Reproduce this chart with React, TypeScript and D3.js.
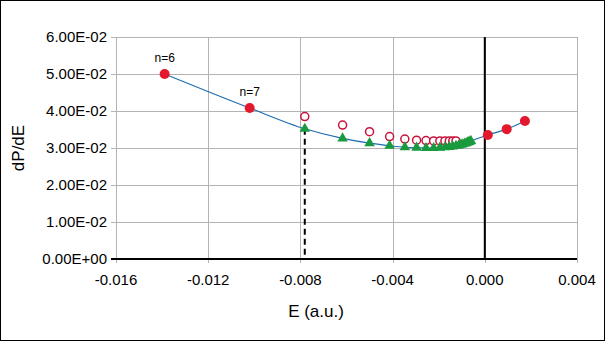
import React, { useRef, useEffect } from "react";
import * as d3 from "d3";

// bound states n=6, n=7 and the positive-energy points (filled red)
const redE = [-0.01389, -0.0102, 0.00013, 0.00095, 0.00174];
const redP = [0.05, 0.0408, 0.0335, 0.0351, 0.0373];

// hollow circles n=8..20
const openE = [
  -0.00781, -0.00617, -0.005, -0.00413, -0.00347, -0.00296, -0.00255, -0.00222,
  -0.00195, -0.00173, -0.00154, -0.00139, -0.00125,
];
const openP = [
  0.0385, 0.0362, 0.0344, 0.0331, 0.0324, 0.0321, 0.032, 0.0319, 0.0319,
  0.0319, 0.0319, 0.0319, 0.0319,
];

// green triangles
const greenE = [
  -0.00781, -0.00617, -0.005, -0.00413, -0.00347, -0.00296, -0.00255, -0.00222,
  -0.00195, -0.00173, -0.00154, -0.00139, -0.00125, -0.00113, -0.00103,
  -0.00095, -0.00087, -0.0008, -0.00074, -0.00069, -0.00064, -0.0006,
];
const greenP = [
  0.0352, 0.0326, 0.0313, 0.0306, 0.0302, 0.0301, 0.03, 0.03, 0.0301, 0.0302,
  0.0303, 0.0304, 0.0306, 0.0307, 0.0309, 0.031, 0.0312, 0.0313, 0.0315,
  0.0316, 0.0318, 0.0319,
];

// smooth guide line
const lineE = [-0.01389, -0.0102, -0.00781, -0.00617, -0.005, -0.00413, -0.00347, -0.00296, -0.00222, -0.00154, -0.001, -0.0006, 0.00013, 0.00095, 0.00174];
const lineP = [0.05, 0.0408, 0.0352, 0.0326, 0.0313, 0.0306, 0.0302, 0.0301, 0.03, 0.0303, 0.0309, 0.0319, 0.0335, 0.0351, 0.0373];

const xTicks = [-0.016, -0.012, -0.008, -0.004, 0.0, 0.004];
const yTicks = [0, 0.01, 0.02, 0.03, 0.04, 0.05, 0.06];
const labels = [
  { text: "n=6", e: -0.01389, p: 0.05 },
  { text: "n=7", e: -0.0102, p: 0.0408 },
];
const dashedE = -0.00781;
const dashedTop = 0.0352;

const width = 605;
const height = 341;
const margin = { top: 37, right: 28, bottom: 82, left: 116 };

function App() {
  const svgRef = useRef<SVGSVGElement>(null);

  useEffect(() => {
    const svg = d3.select(svgRef.current);
    svg.selectAll("*").remove();

    const x = d3.scaleLinear().domain([-0.016, 0.004]).range([margin.left, width - margin.right]);
    const y = d3.scaleLinear().domain([0, 0.06]).range([height - margin.bottom, margin.top]);
    const font = "'Liberation Sans', Arial, sans-serif";

    // outer frame
    svg.append("rect").attr("x", 0.5).attr("y", 0.5).attr("width", width - 1).attr("height", height - 1)
      .attr("fill", "#fff").attr("stroke", "#000");

    // grid
    svg.append("g").selectAll("line").data(yTicks.slice(1)).enter().append("line")
      .attr("x1", margin.left - 5).attr("x2", width - margin.right)
      .attr("y1", (d) => Math.round(y(d)) + 0.5).attr("y2", (d) => Math.round(y(d)) + 0.5)
      .attr("stroke", "#b3b3b3");
    svg.append("g").selectAll("line").data(xTicks).enter().append("line")
      .attr("x1", (d) => Math.round(x(d)) + 0.5).attr("x2", (d) => Math.round(x(d)) + 0.5)
      .attr("y1", margin.top).attr("y2", height - margin.bottom + 4)
      .attr("stroke", "#b3b3b3");

    // y tick labels
    svg.append("g").selectAll("text").data(yTicks).enter().append("text")
      .attr("x", margin.left - 9).attr("y", (d) => y(d))
      .attr("dy", "0.35em").attr("text-anchor", "end")
      .attr("font-family", font).attr("font-size", 15).attr("fill", "#000")
      .text((d) => d3.format(".2e")(d).replace("e", "E").replace(/E([+-])(\d)$/, "E$10$2"));

    // x tick labels
    svg.append("g").selectAll("text").data(xTicks).enter().append("text")
      .attr("x", (d) => x(d)).attr("y", height - margin.bottom + 26)
      .attr("text-anchor", "middle")
      .attr("font-family", font).attr("font-size", 15).attr("fill", "#000")
      .text((d) => d3.format(".3f")(d).replace("−", "-"));

    // x axis line
    svg.append("line").attr("x1", margin.left - 5).attr("x2", width - margin.right)
      .attr("y1", y(0)).attr("y2", y(0)).attr("stroke", "#000").attr("stroke-width", 2);

    // solid line at E = 0
    svg.append("line").attr("x1", x(0)).attr("x2", x(0))
      .attr("y1", margin.top).attr("y2", y(0)).attr("stroke", "#000").attr("stroke-width", 2);

    // dashed line
    svg.append("line").attr("x1", x(dashedE)).attr("x2", x(dashedE))
      .attr("y1", y(dashedTop)).attr("y2", y(0))
      .attr("stroke", "#000").attr("stroke-width", 2).attr("stroke-dasharray", "6,4");

    // guide curve
    const pts = lineE.map((e, i) => [e, lineP[i]] as [number, number]);
    svg.append("path").datum(pts)
      .attr("fill", "none").attr("stroke", "#1f6db3").attr("stroke-width", 1.2)
      .attr("d", d3.line<[number, number]>().x((d) => x(d[0])).y((d) => y(d[1])).curve(d3.curveMonotoneX));

    // hollow circles
    svg.append("g").selectAll("circle").data(openE).enter().append("circle")
      .attr("cx", (d) => x(d)).attr("cy", (d, i) => y(openP[i])).attr("r", 4)
      .attr("fill", "#fff").attr("stroke", "#c8143c").attr("stroke-width", 1.5);

    // green triangles
    const tri = d3.symbol().type(d3.symbolTriangle).size(48);
    svg.append("g").selectAll("path").data(greenE).enter().append("path")
      .attr("transform", (d, i) => `translate(${x(d)},${y(greenP[i])})`)
      .attr("d", tri()).attr("fill", "#1a9a3e");

    // red filled circles
    svg.append("g").selectAll("circle").data(redE).enter().append("circle")
      .attr("cx", (d) => x(d)).attr("cy", (d, i) => y(redP[i])).attr("r", 5)
      .attr("fill", "#e3182d");

    // point labels
    svg.append("g").selectAll("text").data(labels).enter().append("text")
      .attr("x", (d) => x(d.e)).attr("y", (d) => y(d.p) - 12)
      .attr("text-anchor", "middle")
      .attr("font-family", font).attr("font-size", 12).attr("fill", "#000")
      .text((d) => d.text);

    // axis titles
    svg.append("text").attr("x", 316).attr("y", 317)
      .attr("text-anchor", "middle").attr("font-family", font).attr("font-size", 17)
      .text("E (a.u.)");
    svg.append("text").attr("transform", `translate(24,${(margin.top + y(0)) / 2}) rotate(-90)`)
      .attr("text-anchor", "middle").attr("font-family", font).attr("font-size", 17)
      .text("dP/dE");
  }, []);

  return (
    <svg ref={svgRef} width={width} height={height}
      style={{ position: "absolute", left: 0, top: 0 }} />
  );
}

export default App;
